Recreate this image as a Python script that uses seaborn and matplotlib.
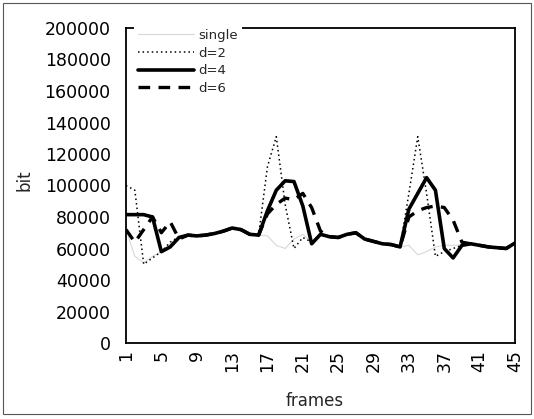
import matplotlib
matplotlib.use("Agg")
import matplotlib.pyplot as plt
from matplotlib.patches import Rectangle
import pandas as pd
import seaborn as sns

# ---- data -------------------------------------------------------------
frames = list(range(1, 46))
series_names = ["single", "d=2", "d=4", "d=6"]

single = [72000, 55000, 51000, 55000, 58000, 63000, 67500,
          68500, 68000, 68500, 69500, 71000, 73000, 72000, 69000, 68500,
          68000, 62000, 60000, 66000, 69000, 64000, 69000,
          67500, 67000, 69000, 70000, 66000, 64500, 63000, 62500, 61000,
          62000, 56000, 58000, 61000, 62000, 62000, 62500,
          63000, 62000, 61000, 60500, 60000, 63500]

d2 = [100000, 97000, 50000, 54000, 58000, 64000, 67500,
      68500, 68000, 68500, 69500, 71000, 73000, 72000, 69000, 68500,
      112000, 131000, 88000, 60000, 67000, 64000, 69000,
      67500, 67000, 69000, 70000, 66000, 64500, 63000, 62500, 61000,
      95000, 131000, 95000, 55000, 58000, 60000, 62000,
      63000, 62000, 61000, 60500, 60000, 63500]

d4 = [81500, 81500, 81500, 80000, 58000, 61000, 67000,
      68500, 68000, 68500, 69500, 71000, 73000, 72000, 69000, 68500,
      84000, 97000, 103000, 102500, 87000, 63000, 69000,
      67500, 67000, 69000, 70000, 66000, 64500, 63000, 62500, 61000,
      85000, 95000, 105000, 97000, 60000, 54000, 62000,
      63000, 62000, 61000, 60500, 60000, 63500]

d6 = [72000, 64000, 72000, 80000, 70000, 77000, 66000,
      68500, 68000, 68500, 69500, 71000, 73000, 72000, 69000, 68500,
      82000, 88000, 92000, 91000, 95000, 86000, 71000,
      67500, 67000, 69000, 70000, 66000, 64500, 63000, 62500, 61000,
      80000, 84000, 86000, 87000, 86000, 78000, 64000,
      63000, 62000, 61000, 60500, 60000, 63500]

x_ticks = list(range(1, 46, 4))
y_ticks = list(range(0, 200001, 20000))

# ---- figure -----------------------------------------------------------
sns.set_style("white")
plt.rcParams["font.family"] = ["DejaVu Sans"]

W, H = 534, 419
fig = plt.figure(figsize=(W / 100, H / 100), dpi=100)
ax = fig.add_axes([126 / W, 1 - 343 / H, (515 - 126) / W, (343 - 28) / H])

df = pd.DataFrame({
    "frames": frames * 4,
    "bit": single + d2 + d4 + d6,
    "series": sum([[n] * len(frames) for n in series_names], []),
})

styles = {
    "single": dict(color="#d8d8d8", linewidth=0.8, linestyle="-"),
    "d=2": dict(color="black", linewidth=1.1, linestyle=(0, (1, 2))),
    "d=4": dict(color="black", linewidth=2.6, linestyle="-"),
    "d=6": dict(color="black", linewidth=2.4, linestyle=(0, (3.5, 2.5))),
}
for name in series_names:
    sub = df[df["series"] == name]
    sns.lineplot(data=sub, x="frames", y="bit", ax=ax, label=name,
                 estimator=None, **styles[name])

ax.set_xlim(1, 45)
ax.set_ylim(0, 200000)
ax.set_xticks(x_ticks)
ax.set_xticklabels([str(t) for t in x_ticks], rotation=90, fontsize=12.5)
ax.set_yticks(y_ticks)
ax.set_yticklabels([str(t) for t in y_ticks], fontsize=12.5)
ax.tick_params(axis="y", direction="in", length=3, width=0.8, pad=11, colors="black")
ax.tick_params(axis="x", length=0, pad=5, colors="black")

for sp in ax.spines.values():
    sp.set_visible(True)
    sp.set_color("black")
    sp.set_linewidth(1.3)

ax.set_xlabel("frames", fontsize=12)
ax.set_ylabel("bit", fontsize=12)
ax.xaxis.set_label_coords(0.486, -0.155)
ax.yaxis.set_label_coords(-0.239, 0.517)

leg = ax.legend(loc="upper left", bbox_to_anchor=(0.02, 1.0095), borderaxespad=0,
                frameon=True, facecolor="white", edgecolor="none", framealpha=1,
                fancybox=False, fontsize=9.5, handlelength=4.3, handletextpad=0.3,
                labelspacing=0.35, borderpad=0.3)

fig.patches.append(Rectangle((3 / W, 5 / H), 528 / W, 411 / H, transform=fig.transFigure,
                             fill=False, edgecolor="#555555", linewidth=0.8))

fig.savefig("out.png", dpi=100)
